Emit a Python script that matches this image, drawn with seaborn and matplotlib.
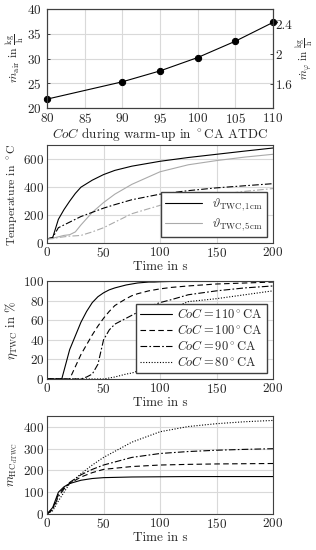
import numpy as np
import pandas as pd
import matplotlib
matplotlib.use("Agg")
import matplotlib.pyplot as plt
import seaborn as sns

# --- data ---
coc = [80, 90, 95, 100, 105, 110]
m_air = [21.8, 25.3, 27.5, 30.2, 33.5, 37.3]

t_temp = [0, 5, 10, 15, 20, 25, 30, 40, 50, 60, 75, 100, 125, 150, 175, 200]
temp_1cm_110 = [30, 40, 170, 240, 300, 355, 400, 450, 490, 520, 550, 585, 612, 635, 658, 680]
temp_5cm_110 = [30, 35, 45, 55, 60, 80, 130, 220, 290, 350, 420, 510, 560, 590, 615, 635]
temp_1cm_80 = [30, 40, 110, 130, 150, 170, 190, 220, 250, 275, 310, 350, 375, 395, 410, 425]
temp_5cm_80 = [30, 32, 40, 45, 50, 52, 55, 80, 110, 150, 210, 270, 310, 345, 370, 390]

t_eff = [0, 10, 13, 20, 30, 35, 40, 45, 50, 55, 60, 70, 75, 80, 85, 90, 95, 100, 110, 125, 150, 175, 200]
eff_110 = [0, 0, 0, 30, 58, 69, 78, 84, 88, 91, 93, 96, 97, 98, 98.5, 99, 99, 99.3, 99.6, 99.8, 100, 100, 100]
eff_100 = [0, 0, 0, 0, 25, 35, 45, 54, 62, 69, 75, 82, 85, 87, 88.5, 90, 91, 92, 93.5, 95, 97, 98, 99]
eff_90 = [0, 0, 0, 0, 0, 2, 5, 15, 40, 50, 56, 62, 65, 68, 71, 74, 76, 78, 81, 86, 90, 93, 95]
eff_80 = [0, 0, 0, 0, 0, 0, 0, 0, 0, 1, 2, 5, 6, 8, 15, 40, 55, 65, 72, 79, 82, 86, 90]

t_hc = [0, 5, 10, 15, 20, 30, 40, 50, 75, 100, 125, 150, 175, 200]
hc_110 = [0, 30, 100, 125, 140, 155, 163, 167, 170, 171, 172, 172, 172, 172]
hc_100 = [0, 25, 90, 120, 140, 170, 190, 205, 218, 225, 228, 230, 231, 232]
hc_90 = [0, 20, 80, 115, 145, 180, 205, 225, 260, 278, 287, 293, 297, 300]
hc_80 = [0, 15, 60, 100, 140, 185, 225, 260, 330, 378, 402, 415, 424, 430]

coc_labels = [r"$CoC = 110^\circ$CA", r"$CoC = 100^\circ$CA",
              r"$CoC = 90^\circ$CA", r"$CoC = 80^\circ$CA"]
styles = ["-", (0, (5, 3)), (0, (6, 2, 1.5, 2)), (0, (1, 1.5))]

sns.set_style("whitegrid", {"axes.edgecolor": "0.25", "grid.color": "0.85"})
plt.rcParams["font.family"] = ["cmr10", "DejaVu Serif"]
plt.rcParams["mathtext.fontset"] = "cm"
plt.rcParams["axes.formatter.use_mathtext"] = True
plt.rcParams["font.size"] = 9.5

fig = plt.figure(figsize=(3.16, 5.5), dpi=100)
ax1 = fig.add_axes([0.149, 0.8036, 0.715, 0.18])
ax2 = fig.add_axes([0.149, 0.558, 0.715, 0.178])
ax3 = fig.add_axes([0.149, 0.311, 0.715, 0.178])
ax4 = fig.add_axes([0.149, 0.0655, 0.715, 0.178])

gray = "#aaaaaa"
kgh = r"\frac{\mathrm{kg}}{\mathrm{h}}"

# 1. Air mass flow vs CoC
sns.lineplot(x=coc, y=m_air, ax=ax1, color="k", lw=0.8, marker="o", markersize=4.5,
             markeredgecolor="k", clip_on=False)
ax1.set_xlim(80, 110)
ax1.set_ylim(20, 40)
ax1.set_xticks(np.arange(80, 111, 5))
ax1.set_yticks(np.arange(20, 41, 5))
ax1.set_xlabel(r"$CoC$ during warm-up in $^\circ$CA ATDC", labelpad=0)
ax1.set_ylabel(r"$\dot{m}_\mathrm{air}$ in $" + kgh + "$", labelpad=1, fontsize=8.5)
ax1r = ax1.twinx()
ax1r.set_ylim(1.28, 2.6)
ax1r.set_yticks([1.6, 2.0, 2.4])
ax1r.set_yticklabels(["1.6", "2", "2.4"])
ax1r.grid(False)
ax1r.set_ylabel(r"$\dot{m}_\varphi$ in $" + kgh + "$", labelpad=1, fontsize=8)

# 2. Temperatures
sns.lineplot(x=t_temp, y=temp_1cm_110, ax=ax2, color="k", lw=0.8,
             label=r"$\vartheta_\mathrm{TWC,1cm}$")
sns.lineplot(x=t_temp, y=temp_5cm_110, ax=ax2, color=gray, lw=0.8,
             label=r"$\vartheta_\mathrm{TWC,5cm}$")
sns.lineplot(x=t_temp, y=temp_1cm_80, ax=ax2, color="k", lw=0.8,
             linestyle=styles[2])
sns.lineplot(x=t_temp, y=temp_5cm_80, ax=ax2, color=gray, lw=0.8,
             linestyle=styles[2])
ax2.set_ylim(0, 700)
ax2.set_yticks([0, 200, 400, 600])
ax2.set_ylabel(r"Temperature in $^\circ$C", labelpad=2, fontsize=8.5)
ax2.legend(loc="lower right", frameon=True, fancybox=False, edgecolor="0.25",
           framealpha=1, borderpad=0.3, handlelength=3, labelspacing=0.3,
           fontsize=9)

# 3. Conversion efficiency
for y, lab, ls in zip([eff_110, eff_100, eff_90, eff_80], coc_labels, styles):
    sns.lineplot(x=t_eff, y=y, ax=ax3, color="k", lw=0.8, linestyle=ls, label=lab)
ax3.set_ylim(0, 100)
ax3.set_yticks(np.arange(0, 101, 20))
ax3.set_ylabel(r"$\eta_\mathrm{TWC}$ in %", labelpad=2, fontsize=9)
ax3.legend(loc="lower right", frameon=True, fancybox=False, edgecolor="0.25",
           framealpha=1, borderpad=0.3, handlelength=2.6, handletextpad=0.4,
           labelspacing=0.15, fontsize=9)

# 4. HC mass
for y, ls in zip([hc_110, hc_100, hc_90, hc_80], styles):
    sns.lineplot(x=t_hc, y=y, ax=ax4, color="k", lw=0.8, linestyle=ls)
ax4.set_ylim(0, 450)
ax4.set_yticks(np.arange(0, 401, 100))
ax4.set_ylabel(r"$m_{\mathrm{HC}_{\mathrm{dTWC}}}$", labelpad=2, fontsize=9)

for ax in [ax2, ax3, ax4]:
    ax.set_xlim(0, 200)
    ax.set_xticks(np.arange(0, 201, 50))
    ax.set_xlabel("Time in s", labelpad=1)

for ax in [ax1, ax1r, ax2, ax3, ax4]:
    ax.tick_params(direction="in", length=2.5, width=0.6, pad=2, labelsize=9.5)
    for s in ax.spines.values():
        s.set_linewidth(0.8)
        s.set_color("0.25")
ax1.tick_params(axis="y", pad=4)
ax1.tick_params(axis="x", pad=3)

fig.savefig("out.png", dpi=100)
